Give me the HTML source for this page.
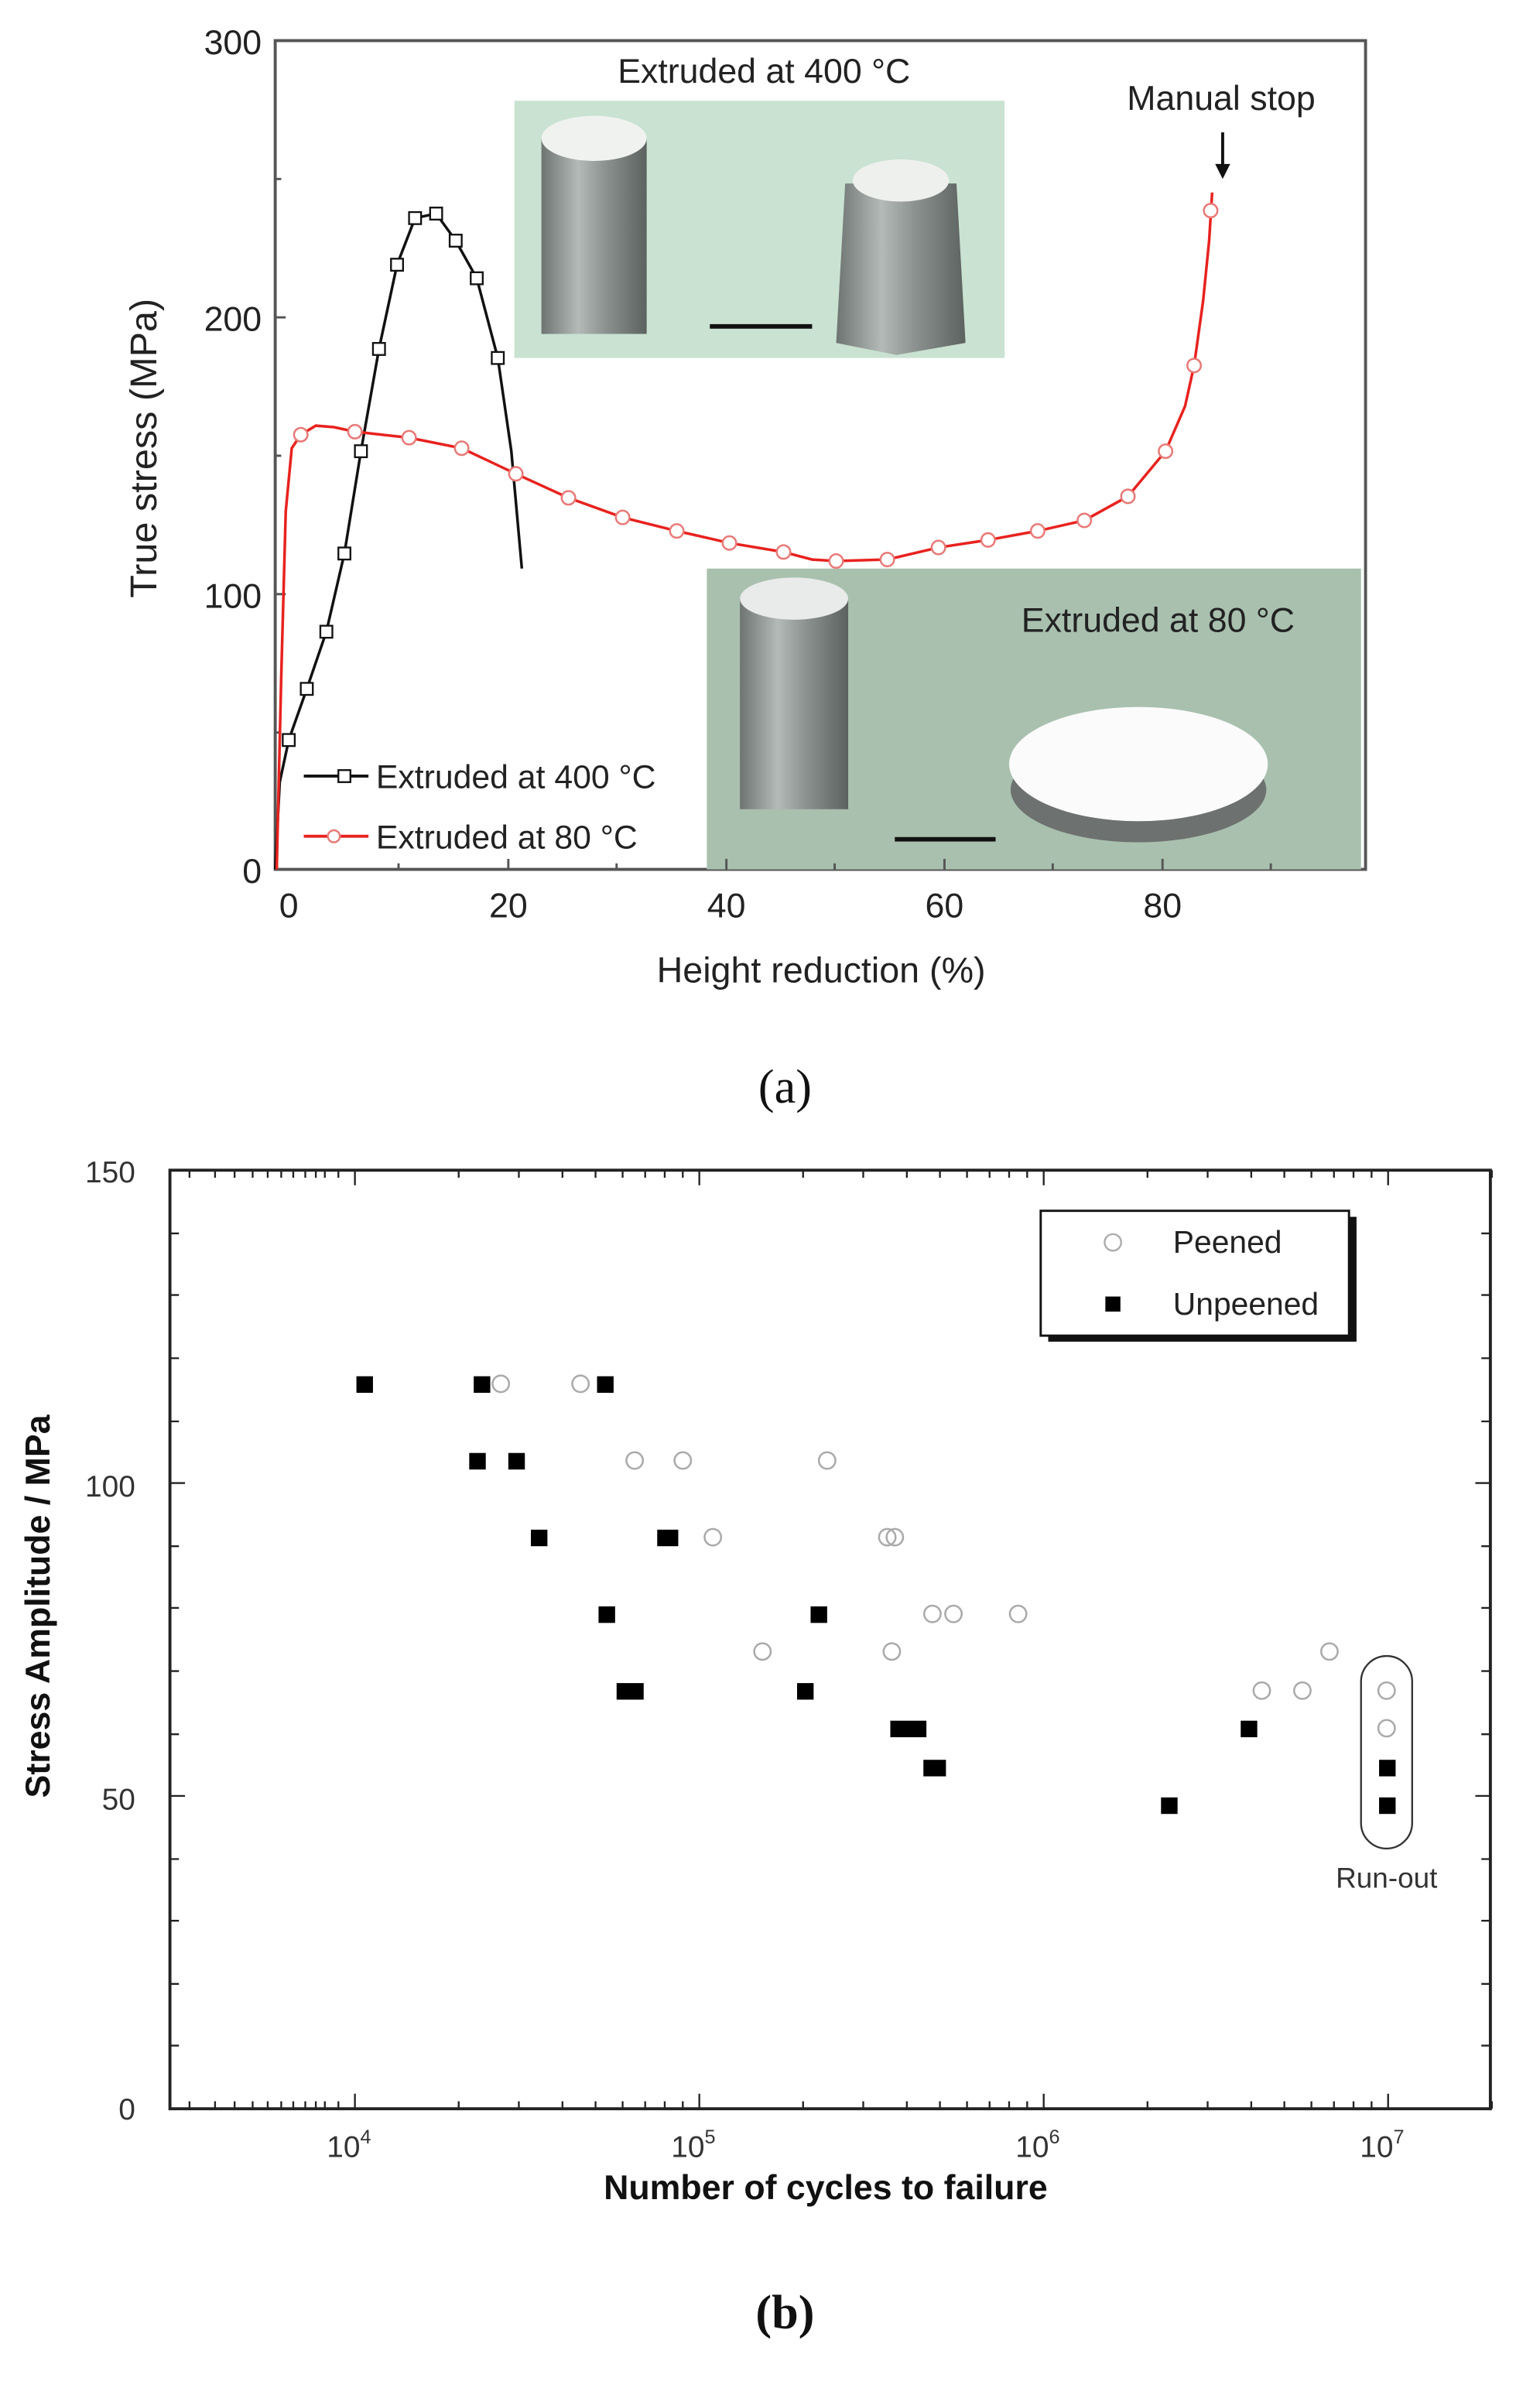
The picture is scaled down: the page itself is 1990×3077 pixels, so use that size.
<!DOCTYPE html>
<html><head><meta charset="utf-8"><style>
html,body{margin:0;padding:0;background:#fff;}
svg{display:block;}
text{font-family:"Liberation Sans",sans-serif;}
</style></head><body>
<svg width="1990" height="3077" viewBox="0 0 1024 1583" preserveAspectRatio="none" xmlns="http://www.w3.org/2000/svg">
<defs>
<linearGradient id="cyl" x1="0" x2="1" y1="0" y2="0">
<stop offset="0" stop-color="#6e7472"/><stop offset="0.35" stop-color="#b4bab8"/><stop offset="0.6" stop-color="#8d9391"/><stop offset="1" stop-color="#5c6260"/>
</linearGradient>
</defs>
<!-- Chart (a) -->
<rect x="183" y="27" width="725" height="551" fill="none" stroke="#555" stroke-width="2"/>
<rect x="342" y="67" width="326" height="171" fill="#c9e2d1"/>
<rect x="360" y="92" width="70" height="130" fill="url(#cyl)"/>
<ellipse cx="395" cy="92" rx="35" ry="15" fill="#f0f2f0"/>
<polygon points="562,122 636,122 642,228 596,236 556,228" fill="url(#cyl)"/>
<ellipse cx="599" cy="120" rx="32" ry="14" fill="#eef0ee"/>
<line x1="472" y1="217" x2="540" y2="217" stroke="#111" stroke-width="3"/>
<rect x="470" y="378" width="435" height="200" fill="#a9c0af"/>
<rect x="492" y="398" width="72" height="140" fill="url(#cyl)"/>
<ellipse cx="528" cy="398" rx="36" ry="14" fill="#e8ebe9"/>
<ellipse cx="757" cy="525" rx="85" ry="35" fill="#6d716f"/>
<ellipse cx="757" cy="508" rx="86" ry="38" fill="#fbfbfb"/>
<line x1="595" y1="558" x2="662" y2="558" stroke="#111" stroke-width="3"/>
<text x="508" y="55" font-size="23" text-anchor="middle" fill="#222">Extruded at 400 °C</text>
<text x="770" y="420" font-size="23" text-anchor="middle" fill="#222">Extruded at 80 °C</text>
<text x="812" y="73" font-size="23" text-anchor="middle" fill="#222">Manual stop</text>
<line x1="813" y1="88" x2="813" y2="112" stroke="#111" stroke-width="2"/>
<polygon points="808,109 818,109 813,119" fill="#111"/>
<g stroke="#555" stroke-width="1.5">
<line x1="183" y1="395" x2="190" y2="395"/><line x1="183" y1="211" x2="190" y2="211"/><line x1="183" y1="303" x2="187" y2="303"/><line x1="183" y1="119" x2="187" y2="119"/><line x1="183" y1="487" x2="187" y2="487"/>
<line x1="338" y1="578" x2="338" y2="571"/><line x1="483" y1="578" x2="483" y2="571"/><line x1="628" y1="578" x2="628" y2="571"/><line x1="773" y1="578" x2="773" y2="571"/>
<line x1="265" y1="578" x2="265" y2="574"/><line x1="410" y1="578" x2="410" y2="574"/><line x1="555" y1="578" x2="555" y2="574"/><line x1="700" y1="578" x2="700" y2="574"/><line x1="845" y1="578" x2="845" y2="574"/>
</g>
<g font-size="23" fill="#222">
<text x="174" y="36" text-anchor="end">300</text>
<text x="174" y="220" text-anchor="end">200</text>
<text x="174" y="404" text-anchor="end">100</text>
<text x="174" y="587" text-anchor="end">0</text>
<g text-anchor="middle">
<text x="192" y="610">0</text><text x="338" y="610">20</text><text x="483" y="610">40</text><text x="628" y="610">60</text><text x="773" y="610">80</text>
<text x="546" y="653" font-size="24">Height reduction (%)</text>
</g>
<text transform="translate(104,298) rotate(-90)" text-anchor="middle" font-size="25">True stress (MPa)</text>
</g>
<polyline fill="none" stroke="#111" stroke-width="1.8" points="183,578 186,520 192,492 204,458 217,420 229,368 240,300 252,232 264,176 276,145 290,142 303,160 317,185 331,238 340,300 347,378"/>
<g fill="#fff" stroke="#111" stroke-width="1.2">
<rect x="188" y="488" width="8" height="8"/><rect x="200" y="454" width="8" height="8"/><rect x="213" y="416" width="8" height="8"/><rect x="225" y="364" width="8" height="8"/><rect x="236" y="296" width="8" height="8"/><rect x="248" y="228" width="8" height="8"/><rect x="260" y="172" width="8" height="8"/><rect x="272" y="141" width="8" height="8"/><rect x="286" y="138" width="8" height="8"/><rect x="299" y="156" width="8" height="8"/><rect x="313" y="181" width="8" height="8"/><rect x="327" y="234" width="8" height="8"/>
</g>
<polyline fill="none" stroke="#e8221e" stroke-width="1.8" points="184,578 187,450 190,340 194,298 200,289 210,283 222,284 236,287 272,291 307,298 343,315 378,331 414,344 450,353 485,361 521,367 540,372 556,373 590,372 624,364 657,359 690,353 721,346 750,330 775,300 788,270 794,243 800,200 804,160 806,128"/>
<g fill="#fff" stroke="#e87a78" stroke-width="1.3">
<circle cx="200" cy="289" r="4.5"/><circle cx="236" cy="287" r="4.5"/><circle cx="272" cy="291" r="4.5"/><circle cx="307" cy="298" r="4.5"/><circle cx="343" cy="315" r="4.5"/><circle cx="378" cy="331" r="4.5"/><circle cx="414" cy="344" r="4.5"/><circle cx="450" cy="353" r="4.5"/><circle cx="485" cy="361" r="4.5"/><circle cx="521" cy="367" r="4.5"/><circle cx="556" cy="373" r="4.5"/><circle cx="590" cy="372" r="4.5"/><circle cx="624" cy="364" r="4.5"/><circle cx="657" cy="359" r="4.5"/><circle cx="690" cy="353" r="4.5"/><circle cx="721" cy="346" r="4.5"/><circle cx="750" cy="330" r="4.5"/><circle cx="775" cy="300" r="4.5"/><circle cx="794" cy="243" r="4.5"/><circle cx="805" cy="140" r="4.5"/>
</g>
<line x1="202" y1="516" x2="245" y2="516" stroke="#111" stroke-width="2"/>
<rect x="225" y="512" width="8" height="8" fill="#fff" stroke="#111" stroke-width="1.2"/>
<text x="250" y="524" font-size="22" fill="#222">Extruded at 400 °C</text>
<line x1="202" y1="556" x2="245" y2="556" stroke="#e8221e" stroke-width="2"/>
<circle cx="222" cy="556" r="4" fill="#fff" stroke="#e87a78" stroke-width="1.3"/>
<text x="250" y="564" font-size="22" fill="#222">Extruded at 80 °C</text>
<text x="522" y="733" font-size="32" text-anchor="middle" style="font-family:'Liberation Serif',serif" fill="#111">(a)</text>

<!-- Chart (b) -->
<rect x="113" y="778" width="878" height="624" fill="none" stroke="#222" stroke-width="2"/>
<g stroke="#222" stroke-width="1.2">
<path d="M113 1360h6M113 1319h6M113 1277h6M113 1236h6M113 1194h10M113 1153h6M113 1111h6M113 1069h6M113 1028h6M113 986h10M113 945h6M113 903h6M113 861h6M113 820h6
M991 1360h-6M991 1319h-6M991 1277h-6M991 1236h-6M991 1194h-10M991 1153h-6M991 1111h-6M991 1069h-6M991 1028h-6M991 986h-10M991 945h-6M991 903h-6M991 861h-6M991 820h-6"/>
<path d="M236 1402v-10M465 1402v-10M694 1402v-10M923 1402v-10M236 778v10M465 778v10M694 778v10M923 778v10"/>
<path d="M126 1402v-5M143 1402v-5M156 1402v-5M168 1402v-5M178 1402v-5M187 1402v-5M195 1402v-5M203 1402v-5M210 1402v-5M216 1402v-5M225 1402v-5
M305 1402v-5M345 1402v-5M374 1402v-5M396 1402v-5M414 1402v-5M429 1402v-5M442 1402v-5M454 1402v-5
M534 1402v-5M574 1402v-5M603 1402v-5M625 1402v-5M643 1402v-5M658 1402v-5M671 1402v-5M683 1402v-5
M763 1402v-5M803 1402v-5M832 1402v-5M854 1402v-5M872 1402v-5M887 1402v-5M900 1402v-5M912 1402v-5
M126 778v5M143 778v5M156 778v5M168 778v5M178 778v5M187 778v5M195 778v5M203 778v5M210 778v5M216 778v5M225 778v5
M305 778v5M345 778v5M374 778v5M396 778v5M414 778v5M429 778v5M442 778v5M454 778v5
M534 778v5M574 778v5M603 778v5M625 778v5M643 778v5M658 778v5M671 778v5M683 778v5
M763 778v5M803 778v5M832 778v5M854 778v5M872 778v5M887 778v5M900 778v5M912 778v5
M992 1402v-5M992 778v5"/>
</g>
<g font-size="20" fill="#333">
<text x="90" y="786" text-anchor="end">150</text>
<text x="90" y="995" text-anchor="end">100</text>
<text x="90" y="1203" text-anchor="end">50</text>
<text x="90" y="1409" text-anchor="end">0</text>
<g text-anchor="middle">
<text x="232" y="1434">10<tspan font-size="13" dy="-9">4</tspan></text>
<text x="461" y="1434">10<tspan font-size="13" dy="-9">5</tspan></text>
<text x="690" y="1434">10<tspan font-size="13" dy="-9">6</tspan></text>
<text x="919" y="1434">10<tspan font-size="13" dy="-9">7</tspan></text>
</g>
</g>
<text x="549" y="1462" font-size="23" font-weight="bold" text-anchor="middle" fill="#111">Number of cycles to failure</text>
<text transform="translate(33,1068) rotate(-90)" font-size="23" font-weight="bold" text-anchor="middle" fill="#111">Stress Amplitude / MPa</text>
<rect x="697" y="809" width="205" height="83" fill="#111"/>
<rect x="692" y="805" width="205" height="83" fill="#fff" stroke="#111" stroke-width="1.5"/>
<circle cx="740" cy="826" r="5.5" fill="none" stroke="#aaa" stroke-width="1.2"/>
<text x="780" y="833" font-size="21" fill="#222">Peened</text>
<rect x="735" y="862" width="10" height="10" fill="#000"/>
<text x="780" y="874" font-size="21" fill="#222">Unpeened</text>
<rect x="905" y="1101" width="34" height="128" rx="17" fill="none" stroke="#333" stroke-width="1.2"/>
<text x="922" y="1255" font-size="19" text-anchor="middle" fill="#333">Run-out</text>
<g fill="none" stroke="#aaa" stroke-width="1.3">
<circle cx="333" cy="920" r="5.5"/><circle cx="386" cy="920" r="5.5"/>
<circle cx="422" cy="971" r="5.5"/><circle cx="454" cy="971" r="5.5"/><circle cx="550" cy="971" r="5.5"/>
<circle cx="474" cy="1022" r="5.5"/><circle cx="590" cy="1022" r="5.5"/><circle cx="595" cy="1022" r="5.5"/>
<circle cx="620" cy="1073" r="5.5"/><circle cx="634" cy="1073" r="5.5"/><circle cx="677" cy="1073" r="5.5"/>
<circle cx="507" cy="1098" r="5.5"/><circle cx="593" cy="1098" r="5.5"/><circle cx="884" cy="1098" r="5.5"/>
<circle cx="839" cy="1124" r="5.5"/><circle cx="866" cy="1124" r="5.5"/><circle cx="922" cy="1124" r="5.5"/>
<circle cx="922" cy="1149" r="5.5"/>
</g>
<g fill="#000">
<rect x="237" y="915" width="11" height="11"/><rect x="315" y="915" width="11" height="11"/><rect x="397" y="915" width="11" height="11"/>
<rect x="312" y="966" width="11" height="11"/><rect x="338" y="966" width="11" height="11"/>
<rect x="353" y="1017" width="11" height="11"/><rect x="437" y="1017" width="14" height="11"/>
<rect x="398" y="1068" width="11" height="11"/><rect x="539" y="1068" width="11" height="11"/>
<rect x="410" y="1119" width="18" height="11"/><rect x="530" y="1119" width="11" height="11"/>
<rect x="592" y="1144" width="24" height="11"/>
<rect x="614" y="1170" width="15" height="11"/>
<rect x="772" y="1195" width="11" height="11"/>
<rect x="825" y="1144" width="11" height="11"/>
<rect x="917" y="1170" width="11" height="11"/><rect x="917" y="1195" width="11" height="11"/>
</g>
<text x="522" y="1548" font-size="32" text-anchor="middle" style="font-family:'Liberation Serif',serif;font-weight:bold" fill="#111">(b)</text>
</svg>
</body></html>
